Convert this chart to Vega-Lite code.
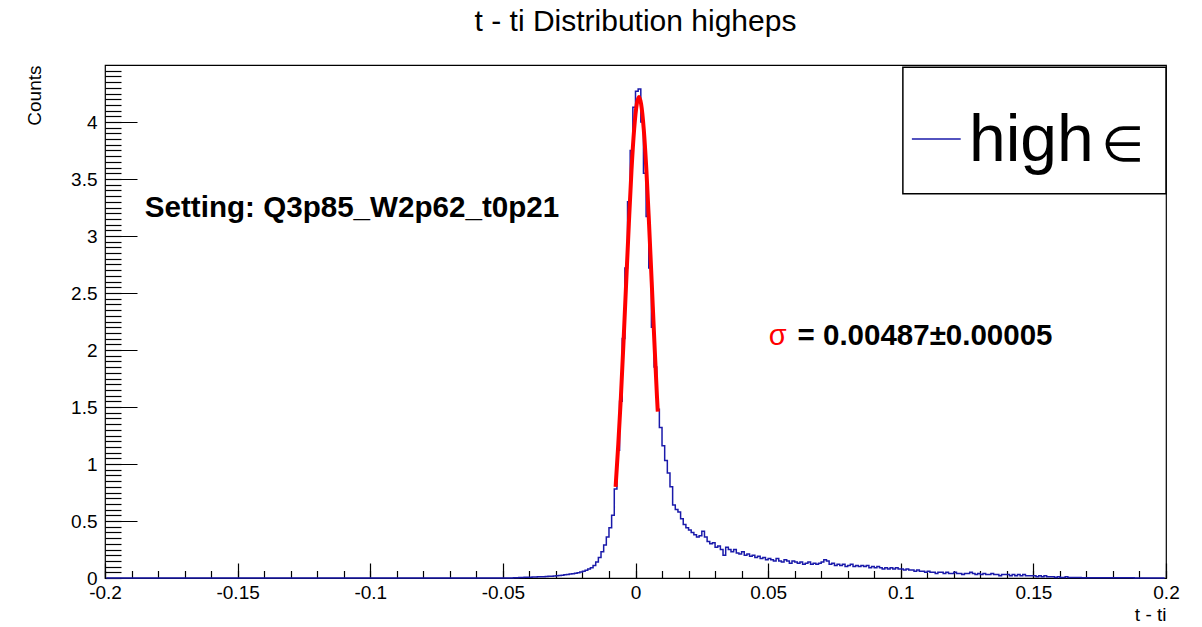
{
  "$schema": "https://vega.github.io/schema/vega-lite/v6.json",
  "width": 1061,
  "height": 513,
  "autosize": {"type": "none"},
  "padding": {"left": 105, "top": 65, "right": 36, "bottom": 49},
  "background": "white",
  "title": {"text": "t - ti Distribution higheps", "fontSize": 30, "font": "Liberation Sans", "fontWeight": "normal", "color": "black", "baseline": "alphabetic", "offset": 4, "anchor": "middle"},
  "config": {
    "font": "Liberation Sans",
    "view": {"stroke": "black", "strokeWidth": 1.2},
    "axis": {"grid": false, "labelColor": "black", "titleColor": "black", "tickColor": "black", "domainColor": "black", "labelFont": "Liberation Sans", "titleFont": "Liberation Sans", "titleFontWeight": "normal"}
  },
  "datasets": {
    "hist": [
      {"t": -0.1995, "counts": 0}, {"t": -0.0465, "counts": 0},
      {"t": -0.0455, "counts": 0.003}, {"t": -0.0445, "counts": 0.003}, {"t": -0.0435, "counts": 0.005}, {"t": -0.0425, "counts": 0.004},
      {"t": -0.0415, "counts": 0.006}, {"t": -0.0405, "counts": 0.006}, {"t": -0.0395, "counts": 0.007}, {"t": -0.0385, "counts": 0.008},
      {"t": -0.0375, "counts": 0.008}, {"t": -0.0365, "counts": 0.01}, {"t": -0.0355, "counts": 0.01}, {"t": -0.0345, "counts": 0.012},
      {"t": -0.0335, "counts": 0.013}, {"t": -0.0325, "counts": 0.015}, {"t": -0.0315, "counts": 0.016}, {"t": -0.0305, "counts": 0.018},
      {"t": -0.0295, "counts": 0.02}, {"t": -0.0285, "counts": 0.022}, {"t": -0.0275, "counts": 0.025}, {"t": -0.0265, "counts": 0.028},
      {"t": -0.0255, "counts": 0.03}, {"t": -0.0245, "counts": 0.034}, {"t": -0.0235, "counts": 0.038}, {"t": -0.0225, "counts": 0.042},
      {"t": -0.0215, "counts": 0.047}, {"t": -0.0205, "counts": 0.053}, {"t": -0.0195, "counts": 0.06}, {"t": -0.0185, "counts": 0.068},
      {"t": -0.0175, "counts": 0.078}, {"t": -0.0165, "counts": 0.09}, {"t": -0.0155, "counts": 0.11}, {"t": -0.0145, "counts": 0.14},
      {"t": -0.0135, "counts": 0.18}, {"t": -0.0125, "counts": 0.23}, {"t": -0.0115, "counts": 0.29}, {"t": -0.0105, "counts": 0.36},
      {"t": -0.0095, "counts": 0.44}, {"t": -0.0085, "counts": 0.55}, {"t": -0.0075, "counts": 0.78}, {"t": -0.0065, "counts": 1.12},
      {"t": -0.0055, "counts": 1.55}, {"t": -0.0045, "counts": 2.1}, {"t": -0.0035, "counts": 2.72}, {"t": -0.0025, "counts": 3.3},
      {"t": -0.0015, "counts": 3.75}, {"t": -0.0005, "counts": 4.13}, {"t": 0.0005, "counts": 4.27}, {"t": 0.0015, "counts": 4.29},
      {"t": 0.0025, "counts": 4.0}, {"t": 0.0035, "counts": 3.55}, {"t": 0.0045, "counts": 3.17}, {"t": 0.0055, "counts": 2.72},
      {"t": 0.0065, "counts": 2.2}, {"t": 0.0075, "counts": 1.85}, {"t": 0.0085, "counts": 1.48}, {"t": 0.0095, "counts": 1.32},
      {"t": 0.0105, "counts": 1.16}, {"t": 0.0115, "counts": 1.03}, {"t": 0.0125, "counts": 0.92}, {"t": 0.0135, "counts": 0.8},
      {"t": 0.0145, "counts": 0.64}, {"t": 0.0155, "counts": 0.6}, {"t": 0.0165, "counts": 0.58}, {"t": 0.0175, "counts": 0.52},
      {"t": 0.0185, "counts": 0.47}, {"t": 0.0195, "counts": 0.44}, {"t": 0.0205, "counts": 0.42}, {"t": 0.0215, "counts": 0.4},
      {"t": 0.0225, "counts": 0.38}, {"t": 0.0235, "counts": 0.36}, {"t": 0.0245, "counts": 0.37}, {"t": 0.0255, "counts": 0.41},
      {"t": 0.0265, "counts": 0.36}, {"t": 0.0275, "counts": 0.32}, {"t": 0.0285, "counts": 0.3}, {"t": 0.0295, "counts": 0.31},
      {"t": 0.0305, "counts": 0.27}, {"t": 0.0315, "counts": 0.28}, {"t": 0.0325, "counts": 0.25}, {"t": 0.0335, "counts": 0.2},
      {"t": 0.0345, "counts": 0.27}, {"t": 0.0355, "counts": 0.25}, {"t": 0.0365, "counts": 0.23}, {"t": 0.0375, "counts": 0.25},
      {"t": 0.0385, "counts": 0.22}, {"t": 0.0395, "counts": 0.21}, {"t": 0.0405, "counts": 0.23}, {"t": 0.0415, "counts": 0.2},
      {"t": 0.0425, "counts": 0.21}, {"t": 0.0435, "counts": 0.19}, {"t": 0.0445, "counts": 0.2}, {"t": 0.0455, "counts": 0.18},
      {"t": 0.0465, "counts": 0.19}, {"t": 0.0475, "counts": 0.17}, {"t": 0.0485, "counts": 0.18}, {"t": 0.0495, "counts": 0.16},
      {"t": 0.0505, "counts": 0.17}, {"t": 0.0515, "counts": 0.16}, {"t": 0.0525, "counts": 0.15}, {"t": 0.0535, "counts": 0.17},
      {"t": 0.0545, "counts": 0.15}, {"t": 0.0555, "counts": 0.14}, {"t": 0.0565, "counts": 0.16}, {"t": 0.0575, "counts": 0.15},
      {"t": 0.0585, "counts": 0.13}, {"t": 0.0595, "counts": 0.15}, {"t": 0.0605, "counts": 0.14}, {"t": 0.0615, "counts": 0.13},
      {"t": 0.0625, "counts": 0.14}, {"t": 0.0635, "counts": 0.12}, {"t": 0.0645, "counts": 0.13}, {"t": 0.0655, "counts": 0.14},
      {"t": 0.0665, "counts": 0.12}, {"t": 0.0675, "counts": 0.13}, {"t": 0.0685, "counts": 0.12}, {"t": 0.0695, "counts": 0.13},
      {"t": 0.0705, "counts": 0.14}, {"t": 0.0715, "counts": 0.16}, {"t": 0.0725, "counts": 0.15}, {"t": 0.0735, "counts": 0.12},
      {"t": 0.0745, "counts": 0.13}, {"t": 0.0755, "counts": 0.11}, {"t": 0.0765, "counts": 0.12}, {"t": 0.0775, "counts": 0.11},
      {"t": 0.0785, "counts": 0.12}, {"t": 0.0795, "counts": 0.1}, {"t": 0.0805, "counts": 0.11}, {"t": 0.0815, "counts": 0.12},
      {"t": 0.0825, "counts": 0.1}, {"t": 0.0835, "counts": 0.11}, {"t": 0.0845, "counts": 0.1}, {"t": 0.0855, "counts": 0.11},
      {"t": 0.0865, "counts": 0.1}, {"t": 0.0875, "counts": 0.11}, {"t": 0.0885, "counts": 0.09}, {"t": 0.0895, "counts": 0.1},
      {"t": 0.0905, "counts": 0.09}, {"t": 0.0915, "counts": 0.1}, {"t": 0.0925, "counts": 0.09}, {"t": 0.0935, "counts": 0.08},
      {"t": 0.0945, "counts": 0.09}, {"t": 0.0955, "counts": 0.08}, {"t": 0.0965, "counts": 0.09}, {"t": 0.0975, "counts": 0.08},
      {"t": 0.0985, "counts": 0.09}, {"t": 0.0995, "counts": 0.08}, {"t": 0.1005, "counts": 0.08}, {"t": 0.1015, "counts": 0.07},
      {"t": 0.1025, "counts": 0.08}, {"t": 0.1035, "counts": 0.07}, {"t": 0.1045, "counts": 0.07}, {"t": 0.1055, "counts": 0.06},
      {"t": 0.1065, "counts": 0.07}, {"t": 0.1075, "counts": 0.06}, {"t": 0.1085, "counts": 0.06}, {"t": 0.1095, "counts": 0.05},
      {"t": 0.1105, "counts": 0.06}, {"t": 0.1115, "counts": 0.05}, {"t": 0.1125, "counts": 0.05}, {"t": 0.1135, "counts": 0.04},
      {"t": 0.1145, "counts": 0.05}, {"t": 0.1155, "counts": 0.05}, {"t": 0.1165, "counts": 0.04}, {"t": 0.1175, "counts": 0.05},
      {"t": 0.1185, "counts": 0.04}, {"t": 0.1195, "counts": 0.04}, {"t": 0.1205, "counts": 0.05}, {"t": 0.1215, "counts": 0.04},
      {"t": 0.1225, "counts": 0.04}, {"t": 0.1235, "counts": 0.03}, {"t": 0.1245, "counts": 0.04}, {"t": 0.1255, "counts": 0.04},
      {"t": 0.1265, "counts": 0.05}, {"t": 0.1275, "counts": 0.04}, {"t": 0.1285, "counts": 0.03}, {"t": 0.1295, "counts": 0.04},
      {"t": 0.1305, "counts": 0.03}, {"t": 0.1315, "counts": 0.04}, {"t": 0.1325, "counts": 0.03}, {"t": 0.1335, "counts": 0.03},
      {"t": 0.1345, "counts": 0.04}, {"t": 0.1355, "counts": 0.03}, {"t": 0.1365, "counts": 0.03}, {"t": 0.1375, "counts": 0.02},
      {"t": 0.1385, "counts": 0.03}, {"t": 0.1395, "counts": 0.03}, {"t": 0.1405, "counts": 0.03}, {"t": 0.1415, "counts": 0.02},
      {"t": 0.1425, "counts": 0.03}, {"t": 0.1435, "counts": 0.02}, {"t": 0.1445, "counts": 0.03}, {"t": 0.1455, "counts": 0.02},
      {"t": 0.1465, "counts": 0.03}, {"t": 0.1475, "counts": 0.02}, {"t": 0.1485, "counts": 0.02}, {"t": 0.1495, "counts": 0.02},
      {"t": 0.1505, "counts": 0.02}, {"t": 0.1515, "counts": 0.01}, {"t": 0.1525, "counts": 0.02}, {"t": 0.1535, "counts": 0.01},
      {"t": 0.1545, "counts": 0.02}, {"t": 0.1555, "counts": 0.01}, {"t": 0.1565, "counts": 0.01}, {"t": 0.1575, "counts": 0.01},
      {"t": 0.1585, "counts": 0.005}, {"t": 0.1595, "counts": 0.01}, {"t": 0.1605, "counts": 0.005}, {"t": 0.1615, "counts": 0.005},
      {"t": 0.1625, "counts": 0.01}, {"t": 0.1635, "counts": 0.005}, {"t": 0.1655, "counts": 0.005}, {"t": 0.1705, "counts": 0.003},
      {"t": 0.1755, "counts": 0.003}, {"t": 0.1805, "counts": 0.002}, {"t": 0.1855, "counts": 0.002}, {"t": 0.1905, "counts": 0.001},
      {"t": 0.1955, "counts": 0.001}, {"t": 0.1995, "counts": 0}
    ],
    "fit": [
      {"t": -0.0075, "fit": 0.8}, {"t": -0.0065, "fit": 1.17}, {"t": -0.0055, "fit": 1.59}, {"t": -0.0045, "fit": 2.08},
      {"t": -0.0035, "fit": 2.6}, {"t": -0.0025, "fit": 3.11}, {"t": -0.0015, "fit": 3.58}, {"t": -0.0005, "fit": 3.94},
      {"t": 0.0005, "fit": 4.16}, {"t": 0.0013, "fit": 4.22}, {"t": 0.0021, "fit": 4.16}, {"t": 0.0031, "fit": 3.94},
      {"t": 0.0041, "fit": 3.58}, {"t": 0.0051, "fit": 3.11}, {"t": 0.0061, "fit": 2.6}, {"t": 0.0071, "fit": 2.08},
      {"t": 0.0081, "fit": 1.59}, {"t": 0.0084, "fit": 1.46}
    ],
    "one": [{"k": 1}]
  },
  "resolve": {"axis": {"x": "independent", "y": "independent"}},
  "layer": [
    {
      "data": {"name": "hist"},
      "mark": {"type": "line", "interpolate": "step", "color": "#1a1aaa", "strokeWidth": 1.5},
      "encoding": {
        "x": {"field": "t", "type": "quantitative",
          "scale": {"domain": [-0.2, 0.2], "nice": false, "zero": false},
          "axis": {"title": "t - ti", "values": [-0.2, -0.15, -0.1, -0.05, 0, 0.05, 0.1, 0.15, 0.2], "labelExpr": "toString(datum.value)",
            "ticks": false, "domain": false, "labelFontSize": 19, "labelPadding": 5, "labelFlush": false, "labelOverlap": false,
            "titleFontSize": 19, "titleX": 1061, "titleY": 42, "titleAlign": "right", "titleBaseline": "alphabetic", "titleAnchor": "end"}},
        "y": {"field": "counts", "type": "quantitative",
          "scale": {"domain": [0, 4.5], "nice": false, "zero": true},
          "axis": {"title": "Counts", "values": [0, 0.5, 1, 1.5, 2, 2.5, 3, 3.5, 4], "labelExpr": "toString(datum.value)",
            "ticks": false, "domain": false, "labelFontSize": 19, "labelPadding": 8, "labelOverlap": false, "labelFlush": false,
            "titleFontSize": 19, "titleAngle": -90, "titleX": -65, "titleY": 0, "titleAlign": "right", "titleBaseline": "alphabetic", "titleAnchor": "end"}}
      }
    },
    {
      "data": {"name": "fit"},
      "mark": {"type": "line", "interpolate": "monotone", "color": "#ff0000", "strokeWidth": 4},
      "encoding": {
        "x": {"field": "t", "type": "quantitative",
          "axis": {"orient": "top", "offset": -513, "title": null, "labels": false, "domain": false, "ticks": true, "tickSize": 15, "tickWidth": 1.2,
            "values": [-0.2, -0.15, -0.1, -0.05, 0, 0.05, 0.1, 0.15, 0.2]}},
        "y": {"field": "fit", "type": "quantitative",
          "axis": {"orient": "right", "offset": -1061, "title": null, "labels": false, "domain": false, "ticks": true, "tickSize": 32, "tickWidth": 1.2,
            "values": [0, 0.5, 1, 1.5, 2, 2.5, 3, 3.5, 4]}}
      }
    },
    {
      "data": {"name": "one"},
      "mark": {"type": "rect", "fill": "white", "stroke": "black", "strokeWidth": 1.5},
      "encoding": {
        "x": {"datum": 0.1008, "type": "quantitative",
          "axis": {"orient": "top", "offset": -513, "title": null, "labels": false, "domain": false, "ticks": true, "tickSize": 7.5, "tickWidth": 1.2,
            "values": [-0.2, -0.19, -0.18, -0.17, -0.16, -0.15, -0.14, -0.13, -0.12, -0.11, -0.1, -0.09, -0.08, -0.07, -0.06, -0.05, -0.04, -0.03, -0.02, -0.01, 0, 0.01, 0.02, 0.03, 0.04, 0.05, 0.06, 0.07, 0.08, 0.09, 0.1, 0.11, 0.12, 0.13, 0.14, 0.15, 0.16, 0.17, 0.18, 0.19, 0.2]}},
        "x2": {"datum": 0.2},
        "y": {"datum": 4.48, "type": "quantitative",
          "axis": {"orient": "right", "offset": -1061, "title": null, "labels": false, "domain": false, "ticks": true, "tickSize": 16, "tickWidth": 1.2,
            "values": [0, 0.05, 0.1, 0.15, 0.2, 0.25, 0.3, 0.35, 0.4, 0.45, 0.5, 0.55, 0.6, 0.65, 0.7, 0.75, 0.8, 0.85, 0.9, 0.95, 1, 1.05, 1.1, 1.15, 1.2, 1.25, 1.3, 1.35, 1.4, 1.45, 1.5, 1.55, 1.6, 1.65, 1.7, 1.75, 1.8, 1.85, 1.9, 1.95, 2, 2.05, 2.1, 2.15, 2.2, 2.25, 2.3, 2.35, 2.4, 2.45, 2.5, 2.55, 2.6, 2.65, 2.7, 2.75, 2.8, 2.85, 2.9, 2.95, 3, 3.05, 3.1, 3.15, 3.2, 3.25, 3.3, 3.35, 3.4, 3.45, 3.5, 3.55, 3.6, 3.65, 3.7, 3.75, 3.8, 3.85, 3.9, 3.95, 4, 4.05, 4.1, 4.15, 4.2, 4.25, 4.3, 4.35, 4.4, 4.45]}},
        "y2": {"datum": 3.37}
      }
    },
    {
      "data": {"name": "one"},
      "mark": {"type": "rule", "color": "#1a1aaa", "strokeWidth": 1.5},
      "encoding": {
        "x": {"datum": 0.1042, "type": "quantitative", "axis": null},
        "x2": {"datum": 0.1226},
        "y": {"datum": 3.85, "type": "quantitative", "axis": null}
      }
    },
    {
      "data": {"name": "one"},
      "mark": {"type": "text", "text": "high", "fontSize": 66, "font": "Liberation Sans", "align": "left", "baseline": "alphabetic", "color": "black"},
      "encoding": {
        "x": {"datum": 0.1257, "type": "quantitative", "axis": null},
        "y": {"datum": 3.66, "type": "quantitative", "axis": null}
      }
    },
    {
      "data": {"name": "one"},
      "mark": {"type": "text", "text": "∈", "fontSize": 49, "font": "DejaVu Sans", "align": "left", "baseline": "alphabetic", "color": "black"},
      "encoding": {
        "x": {"datum": 0.1757, "type": "quantitative", "axis": null},
        "y": {"datum": 3.66, "type": "quantitative", "axis": null}
      }
    },
    {
      "data": {"name": "one"},
      "mark": {"type": "text", "text": "Setting: Q3p85_W2p62_t0p21", "fontSize": 29.6, "fontWeight": "bold", "font": "Liberation Sans", "align": "left", "baseline": "alphabetic", "color": "black"},
      "encoding": {
        "x": {"datum": -0.185, "type": "quantitative", "axis": null},
        "y": {"datum": 3.17, "type": "quantitative", "axis": null}
      }
    },
    {
      "data": {"name": "one"},
      "mark": {"type": "text", "text": "σ", "fontSize": 29, "font": "Liberation Sans", "align": "left", "baseline": "alphabetic", "color": "#ff0000"},
      "encoding": {
        "x": {"datum": 0.0502, "type": "quantitative", "axis": null},
        "y": {"datum": 2.04, "type": "quantitative", "axis": null}
      }
    },
    {
      "data": {"name": "one"},
      "mark": {"type": "text", "text": "= 0.00487±0.00005", "fontSize": 29.5, "fontWeight": "bold", "font": "Liberation Sans", "align": "left", "baseline": "alphabetic", "color": "black"},
      "encoding": {
        "x": {"datum": 0.0611, "type": "quantitative", "axis": null},
        "y": {"datum": 2.04, "type": "quantitative", "axis": null}
      }
    }
  ]
}
